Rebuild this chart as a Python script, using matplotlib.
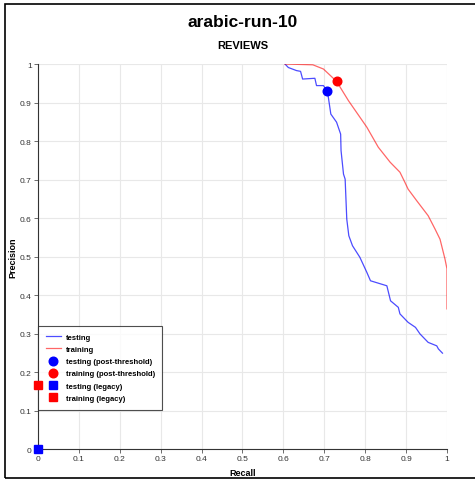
import numpy as np
import matplotlib
matplotlib.use('Agg')
import matplotlib.pyplot as plt
from matplotlib.patches import Rectangle

# curva de test (recall, precision)
test_recall = [0.604, 0.612, 0.632, 0.642, 0.647, 0.677, 0.681, 0.698, 0.707,
               0.710, 0.716, 0.730, 0.740, 0.741, 0.747, 0.751, 0.755, 0.760,
               0.769, 0.787, 0.804, 0.813, 0.853, 0.862, 0.881, 0.885, 0.905,
               0.923, 0.934, 0.954, 0.975, 0.979, 0.989]
test_precision = [1.0, 0.991, 0.983, 0.981, 0.961, 0.963, 0.944, 0.944, 0.929,
                  0.913, 0.870, 0.849, 0.818, 0.775, 0.714, 0.701, 0.597, 0.554,
                  0.528, 0.498, 0.459, 0.437, 0.424, 0.385, 0.368, 0.351, 0.329,
                  0.316, 0.299, 0.277, 0.268, 0.260, 0.249]

# curva de entrenamiento
train_recall = [0.604, 0.672, 0.698, 0.730, 0.759, 0.804, 0.832, 0.861, 0.885,
                0.897, 0.905, 0.926, 0.954, 0.971, 0.983, 0.995, 1.0, 1.0]
train_precision = [1.0, 0.998, 0.987, 0.955, 0.905, 0.836, 0.784, 0.745, 0.719,
                   0.693, 0.675, 0.645, 0.606, 0.571, 0.545, 0.494, 0.468, 0.364]

# puntos post-threshold y legacy
post_test = (0.707, 0.929)
post_train = (0.730, 0.955)
legacy_test = (0.0, 0.0)
legacy_train = (0.0, 0.167)

ticks = [0, 0.1, 0.2, 0.3, 0.4, 0.5, 0.6, 0.7, 0.8, 0.9, 1]
tick_labels = ['0', '0.1', '0.2', '0.3', '0.4', '0.5', '0.6', '0.7', '0.8', '0.9', '1']

plt.rcParams['font.family'] = ['Liberation Sans', 'DejaVu Sans']

fig = plt.figure(figsize=(4.75, 4.81), dpi=100)
ax = fig.add_axes([0.08, 0.0644, 0.861, 0.8004])

ax.plot(test_recall, test_precision, color='#0000ff', alpha=0.7, lw=0.9, label='testing')
ax.plot(train_recall, train_precision, color='#ff0000', alpha=0.6, lw=0.9, label='training')
ax.plot(*post_test, 'o', color='#0000ff', ms=6.2, label='testing (post-threshold)')
ax.plot(*post_train, 'o', color='#ff0000', ms=6.2, label='training (post-threshold)')
ax.plot(*legacy_test, 's', color='#0000ff', ms=5.2, clip_on=False, zorder=10, label='testing (legacy)')
ax.plot(*legacy_train, 's', color='#ff0000', ms=5.2, clip_on=False, zorder=10, label='training (legacy)')

ax.set_xlim(0, 1)
ax.set_ylim(0, 1)
ax.set_xticks(ticks)
ax.set_xticklabels(tick_labels)
ax.set_yticks(ticks)
ax.set_yticklabels(tick_labels)
ax.tick_params(labelsize=6, length=3, width=0.6, color='#555555', labelcolor='#333333', pad=1.5)
ax.grid(True, color='#e8e8e8', lw=0.8)
ax.set_axisbelow(True)
for s in ['top', 'right']:
    ax.spines[s].set_visible(False)
for s in ['left', 'bottom']:
    ax.spines[s].set_linewidth(0.8)
    ax.spines[s].set_color('#333333')

ax.set_xlabel('Recall', fontsize=6.5, fontweight='bold', labelpad=4)
ax.set_ylabel('Precision', fontsize=6.5, fontweight='bold', labelpad=2)

leg = ax.legend(loc='lower left', bbox_to_anchor=(0.0, 0.102), prop={'size': 5.5, 'weight': 'bold'},
                frameon=True, fancybox=False, edgecolor='#222222', borderpad=1.0,
                handlelength=2.0, handletextpad=0.6, labelspacing=0.65, borderaxespad=0)
leg.get_frame().set_linewidth(0.8)

fig.text(0.511, 0.954, 'arabic-run-10', ha='center', va='center', fontsize=12.5, fontweight='bold')
fig.text(0.511, 0.905, 'REVIEWS', ha='center', va='center', fontsize=8, fontweight='bold')

# marco exterior
fig.patches.append(Rectangle((5 / 475, 2 / 481), 1.0, 474 / 481, transform=fig.transFigure,
                             fill=False, edgecolor='black', lw=1.2))

fig.savefig('out.png', dpi=100)
